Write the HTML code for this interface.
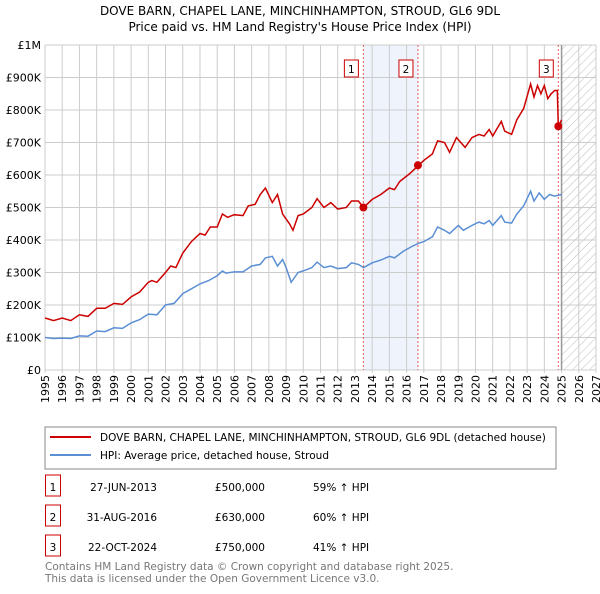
<!DOCTYPE html>
<html><head><meta charset="utf-8"><style>
body{margin:0;background:#fff;font-family:"DejaVu Sans","Liberation Sans",sans-serif;}
svg text{font-family:"DejaVu Sans","Liberation Sans",sans-serif;}
</style></head><body>
<svg id="c" width="600" height="590" xmlns="http://www.w3.org/2000/svg">
<defs><pattern id="hatch" width="6" height="6" patternUnits="userSpaceOnUse" patternTransform="rotate(45)"><line x1="0" y1="0" x2="0" y2="6" stroke="#bbb" stroke-width="1"/></pattern></defs>
<text x="300" y="15" text-anchor="middle" font-size="12">DOVE BARN, CHAPEL LANE, MINCHINHAMPTON, STROUD, GL6 9DL</text>
<text x="300" y="31" text-anchor="middle" font-size="12">Price paid vs. HM Land Registry's House Price Index (HPI)</text>
<g id="plot"></g>
<rect x="45" y="427" width="511" height="42" fill="none" stroke="#888"/>
<line x1="50" y1="437" x2="91" y2="437" stroke="#cc0000" stroke-width="2"/>
<text x="100" y="441" font-size="10.5">DOVE BARN, CHAPEL LANE, MINCHINHAMPTON, STROUD, GL6 9DL (detached house)</text>
<line x1="50" y1="455" x2="91" y2="455" stroke="#5b8fd4" stroke-width="2"/>
<text x="100" y="459" font-size="10.5">HPI: Average price, detached house, Stroud</text>
<g id="table" font-size="10.5"></g>
<text x="45" y="570" font-size="10.5" fill="#777">Contains HM Land Registry data © Crown copyright and database right 2025.</text>
<text x="45" y="582" font-size="10.5" fill="#777">This data is licensed under the Open Government Licence v3.0.</text>
</svg>
<script>
const hpiYears=[1995,1995.5,1996,1996.5,1997,1997.5,1998,1998.5,1999,1999.5,2000,2000.5,2001,2001.5,2002,2002.5,2003,2003.5,2004,2004.5,2005,2005.3,2005.5,2006,2006.5,2007,2007.5,2007.8,2008.2,2008.5,2008.8,2009.0,2009.3,2009.7,2010,2010.5,2010.8,2011.2,2011.6,2012,2012.5,2012.8,2013.2,2013.5,2014,2014.5,2015,2015.3,2015.8,2016.3,2016.7,2017,2017.5,2017.8,2018.2,2018.5,2019,2019.3,2019.8,2020.2,2020.5,2020.8,2021,2021.5,2021.7,2022.1,2022.4,2022.8,2023.2,2023.4,2023.7,2024,2024.3,2024.6,2025];
const hpiValues=[100,97,98,97,105,104,120,118,130,128,145,155,172,170,200,205,235,250,265,275,290,305,298,302,302,320,325,345,350,320,340,315,270,300,305,315,332,315,320,312,315,330,325,315,330,338,350,345,365,380,390,395,410,440,430,420,445,430,445,455,450,460,445,475,455,452,480,505,550,520,545,525,540,535,540];
const priceYears=[1995,1995.5,1996,1996.5,1997,1997.5,1998,1998.5,1999,1999.5,2000,2000.5,2001,2001.2,2001.5,2002,2002.3,2002.6,2003,2003.5,2004,2004.3,2004.6,2005,2005.3,2005.6,2006,2006.5,2006.8,2007.2,2007.5,2007.8,2008.2,2008.5,2008.8,2009.2,2009.4,2009.7,2010,2010.5,2010.8,2011.2,2011.6,2012,2012.5,2012.8,2013.2,2013.5,2014,2014.5,2015,2015.3,2015.6,2016.2,2016.6,2017,2017.5,2017.8,2018.2,2018.5,2018.9,2019.4,2019.8,2020.2,2020.5,2020.8,2021,2021.5,2021.7,2022.1,2022.4,2022.8,2023.2,2023.4,2023.6,2023.8,2024,2024.2,2024.4,2024.6,2024.75,2024.81,2025];
const priceValues=[160,152,160,152,170,165,190,190,205,202,225,240,270,275,270,300,320,315,360,395,420,415,440,440,480,470,478,475,505,510,540,560,515,540,480,450,430,475,480,500,527,500,515,495,500,520,520,500,525,540,560,555,580,605,625,645,665,705,700,670,715,685,715,725,720,740,720,765,735,725,770,805,880,840,875,850,875,835,850,860,860,750,770];
const saleLabels=["1","2","3"];
const saleYears=[2013.49,2016.66,2024.81];
const saleValues=[500,630,750];
const saleDates=["27-JUN-2013","31-AUG-2016","22-OCT-2024"];
const salePrices=["£500,000","£630,000","£750,000"];
const saleHpi=["59% ↑ HPI","60% ↑ HPI","41% ↑ HPI"];
const yTicks=[0,100,200,300,400,500,600,700,800,900,1000];
const yTickLabels=["£0","£100K","£200K","£300K","£400K","£500K","£600K","£700K","£800K","£900K","£1M"];
const xTicks=[1995,1996,1997,1998,1999,2000,2001,2002,2003,2004,2005,2006,2007,2008,2009,2010,2011,2012,2013,2014,2015,2016,2017,2018,2019,2020,2021,2022,2023,2024,2025,2026,2027];

const X0=45,X1=596,Y0=370,Y1=45;
const xs=y=>X0+(y-1995)/(2027-1995)*(X1-X0);
const ys=v=>Y0-v/1000*(Y0-Y1);
const NS="http://www.w3.org/2000/svg";
const plot=document.getElementById('plot');
function mk(tag,attrs,parent){const e=document.createElementNS(NS,tag);for(const k in attrs)e.setAttribute(k,attrs[k]);(parent||plot).appendChild(e);return e;}

let r=mk('rect',{x:xs(saleYears[0]),y:Y1,width:xs(saleYears[1])-xs(saleYears[0]),height:Y0-Y1,fill:'#eef3fc'});


r=mk('rect',{x:xs(2025),y:Y1,width:X1-xs(2025),height:Y0-Y1,fill:'url(#hatch)'});



yTicks.forEach((t,i)=>{
  let l=mk('line',{x1:X0,x2:X1,y1:ys(t),y2:ys(t),stroke:'#ccc','stroke-width':1});
  
  
  let tx=mk('text',{x:X0-4,y:ys(t)+4,'text-anchor':'end','font-size':11});
  tx.textContent=yTickLabels[i];
  
  
});
xTicks.forEach(t=>{
  let l=mk('line',{x1:xs(t),x2:xs(t),y1:Y1,y2:Y0+3,stroke:'#ccc','stroke-width':1});
  
  
  let tx=mk('text',{x:0,y:0,'font-size':11,transform:`translate(${xs(t)+4},${Y0+33}) rotate(-90)`});
  tx.textContent=t;
  
  
});
let ln=mk('line',{x1:xs(2025),x2:xs(2025),y1:Y1,y2:Y0,stroke:'#999','stroke-width':1.5});



saleYears.forEach((y,i)=>{
  let l=mk('line',{x1:xs(y),x2:xs(y),y1:Y1,y2:Y0,stroke:'#e06060','stroke-width':1,'stroke-dasharray':'2,2'});
  
  
});

function path(xsA,vs,col,name){
  const d=xsA.map((y,i)=>(i?'L':'M')+xs(y).toFixed(1)+','+ys(vs[i]).toFixed(1)).join('');
  const p=mk('path',{d:d,fill:'none',stroke:col,'stroke-width':1.5});
  
  
}
path(hpiYears,hpiValues,'#5b8fd4','hpi-line');
path(priceYears,priceValues,'#cc0000','property-price-line');

saleYears.forEach((y,i)=>{
  let c=mk('circle',{cx:xs(y),cy:ys(saleValues[i]),r:4,fill:'#cc0000'});
  
  
  let b=mk('rect',{x:xs(y)-19,y:60,width:14,height:17,fill:'#fff',stroke:'#cc0000'});
  
  
  let t=mk('text',{x:xs(y)-12,y:73,'text-anchor':'middle','font-size':10.5});
  t.textContent=saleLabels[i];
  
  
});

const tb=document.getElementById('table');
saleLabels.forEach((s,i)=>{
  const yy=487+i*30;
  let b=mk('rect',{x:45.5,y:yy-12,width:15,height:21,fill:'#fff',stroke:'#cc0000'},tb);
  
  
  const cells=[[53,s,'middle'],[157,saleDates[i],'end'],[265,salePrices[i],'end'],[313,saleHpi[i],'start']];
  cells.forEach(c=>{
    let t=mk('text',{x:c[0],y:yy+4,'text-anchor':c[2]},tb);
    t.textContent=c[1];
    
    
  });
});
</script>
</body></html>
